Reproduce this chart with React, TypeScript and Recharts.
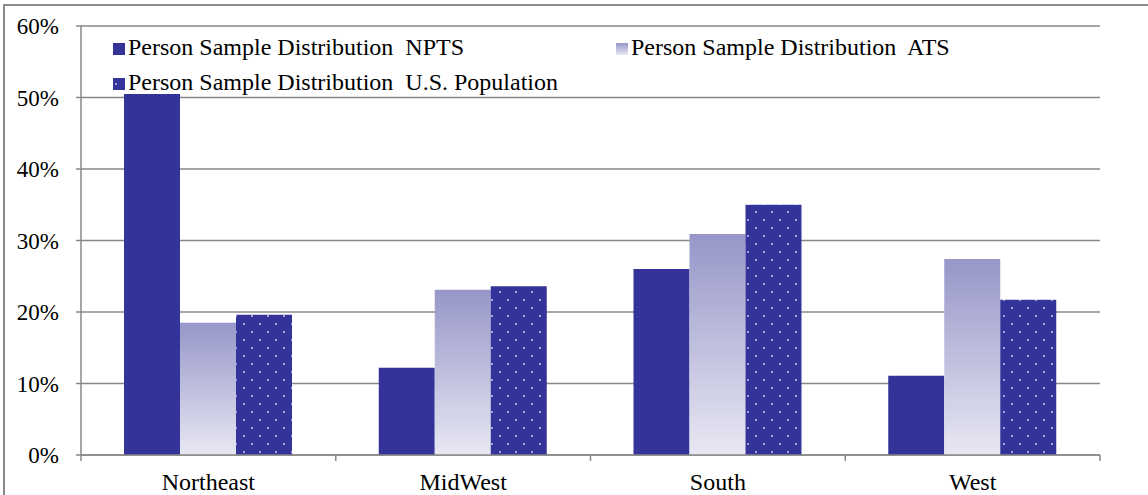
import React from "react";
import { BarChart, Bar, XAxis, YAxis, CartesianGrid } from "recharts";

const categories = ["Northeast", "MidWest", "South", "West"];
const nptsValues = [50.5, 12.2, 26.0, 11.1];
const atsValues = [18.5, 23.1, 30.9, 27.4];
const usPopValues = [19.6, 23.6, 35.0, 21.7];
const yTicks = [0, 10, 20, 30, 40, 50, 60];

const seriesNames = [
  "Person Sample Distribution\u00a0 NPTS",
  "Person Sample Distribution\u00a0 ATS",
  "Person Sample Distribution\u00a0 U.S. Population",
];

const data = categories.map((name, i) => ({
  name,
  npts: nptsValues[i],
  ats: atsValues[i],
  us: usPopValues[i],
}));

const W = 1148;
const H = 495;
const margin = { top: 26, right: 48, bottom: 0, left: 0 };
const yAxisWidth = 81;
const band = (W - margin.left - margin.right - yAxisWidth) / categories.length;
const font = "Liberation Serif";
const gridColor = "#888";

const fills = ["#333399", "url(#atsGrad)", "url(#usDots)"];
// legend slots: [marker x, text baseline y]
const legendSlots = [
  [113, 55],
  [616, 55],
  [113, 90],
];

function CatTick(props: any) {
  const { x, y, payload, index } = props;
  const axisY = y - 19;
  return (
    <g>
      <line x1={x - band / 2} x2={x - band / 2} y1={axisY} y2={axisY + 6} stroke={gridColor} strokeWidth={1.5} />
      {index === categories.length - 1 && (
        <line x1={x + band / 2} x2={x + band / 2} y1={axisY} y2={axisY + 6} stroke={gridColor} strokeWidth={1.5} />
      )}
      <text x={x} y={y} dy="0.68em" textAnchor="middle" fill="#000" fontSize={24} fontFamily={font}>
        {payload.value}
      </text>
    </g>
  );
}

function PctTick(props: any) {
  const { x, y, payload } = props;
  return (
    <text x={x} y={y} dy="0.36em" textAnchor="end" fill="#000" fontSize={23} fontFamily={font}>
      {`${payload.value}%`}
    </text>
  );
}

function LegendLayer() {
  return (
    <svg width={W} height={110} style={{ position: "absolute", left: 0, top: 0 }}>
      {seriesNames.map((name, i) => {
        const [lx, ly] = legendSlots[i];
        return (
          <g key={name}>
            <rect x={lx} y={ly - 12} width={12} height={12} fill={fills[i]} />
            <text x={lx + 15} y={ly} fontSize={24} fontFamily={font} fill="#000">
              {name}
            </text>
          </g>
        );
      })}
    </svg>
  );
}

export default function App() {
  return (
    <div
      style={{
        position: "absolute",
        left: 0,
        top: 0,
        width: W,
        height: H,
        overflow: "hidden",
        background: "#fff",
      }}
    >
      <div
        style={{
          position: "absolute",
          left: 3,
          top: 4,
          width: W + 20,
          height: H + 20,
          border: "2px solid #8a8a8a",
        }}
      />
      <div style={{ position: "absolute", left: 0, top: 0 }}>
        <BarChart width={W} height={H} data={data} margin={margin} barGap={0} barSize={56}>
          <defs>
            <linearGradient id="atsGrad" x1="0" y1="0" x2="0" y2="1">
              <stop offset="0" stopColor="#9696c9" />
              <stop offset="1" stopColor="#e8e8f3" />
            </linearGradient>
            <pattern id="usDots" width={16} height={16} patternUnits="userSpaceOnUse">
              <rect width={16} height={16} fill="#333399" />
              <circle cx={4} cy={4} r={1} fill="#c4c4f0" />
              <circle cx={12} cy={12} r={1} fill="#c4c4f0" />
            </pattern>
          </defs>
          <CartesianGrid vertical={false} stroke={gridColor} strokeWidth={1.5} />
          <XAxis
            dataKey="name"
            axisLine={{ stroke: gridColor, strokeWidth: 1.5 }}
            tickLine={false}
            tickSize={0}
            tickMargin={19}
            height={40}
            interval={0}
            tick={<CatTick />}
          />
          <YAxis
            width={yAxisWidth}
            domain={[0, 60]}
            ticks={yTicks}
            interval={0}
            axisLine={{ stroke: gridColor, strokeWidth: 1.5 }}
            tickLine={{ stroke: gridColor, strokeWidth: 1.5 }}
            tickSize={5}
            tickMargin={17}
            tick={<PctTick />}
          />
          <Bar dataKey="npts" name={seriesNames[0]} fill={fills[0]} isAnimationActive={false} />
          <Bar dataKey="ats" name={seriesNames[1]} fill={fills[1]} isAnimationActive={false} />
          <Bar dataKey="us" name={seriesNames[2]} fill={fills[2]} isAnimationActive={false} />
        </BarChart>
      </div>
      <LegendLayer />
    </div>
  );
}
